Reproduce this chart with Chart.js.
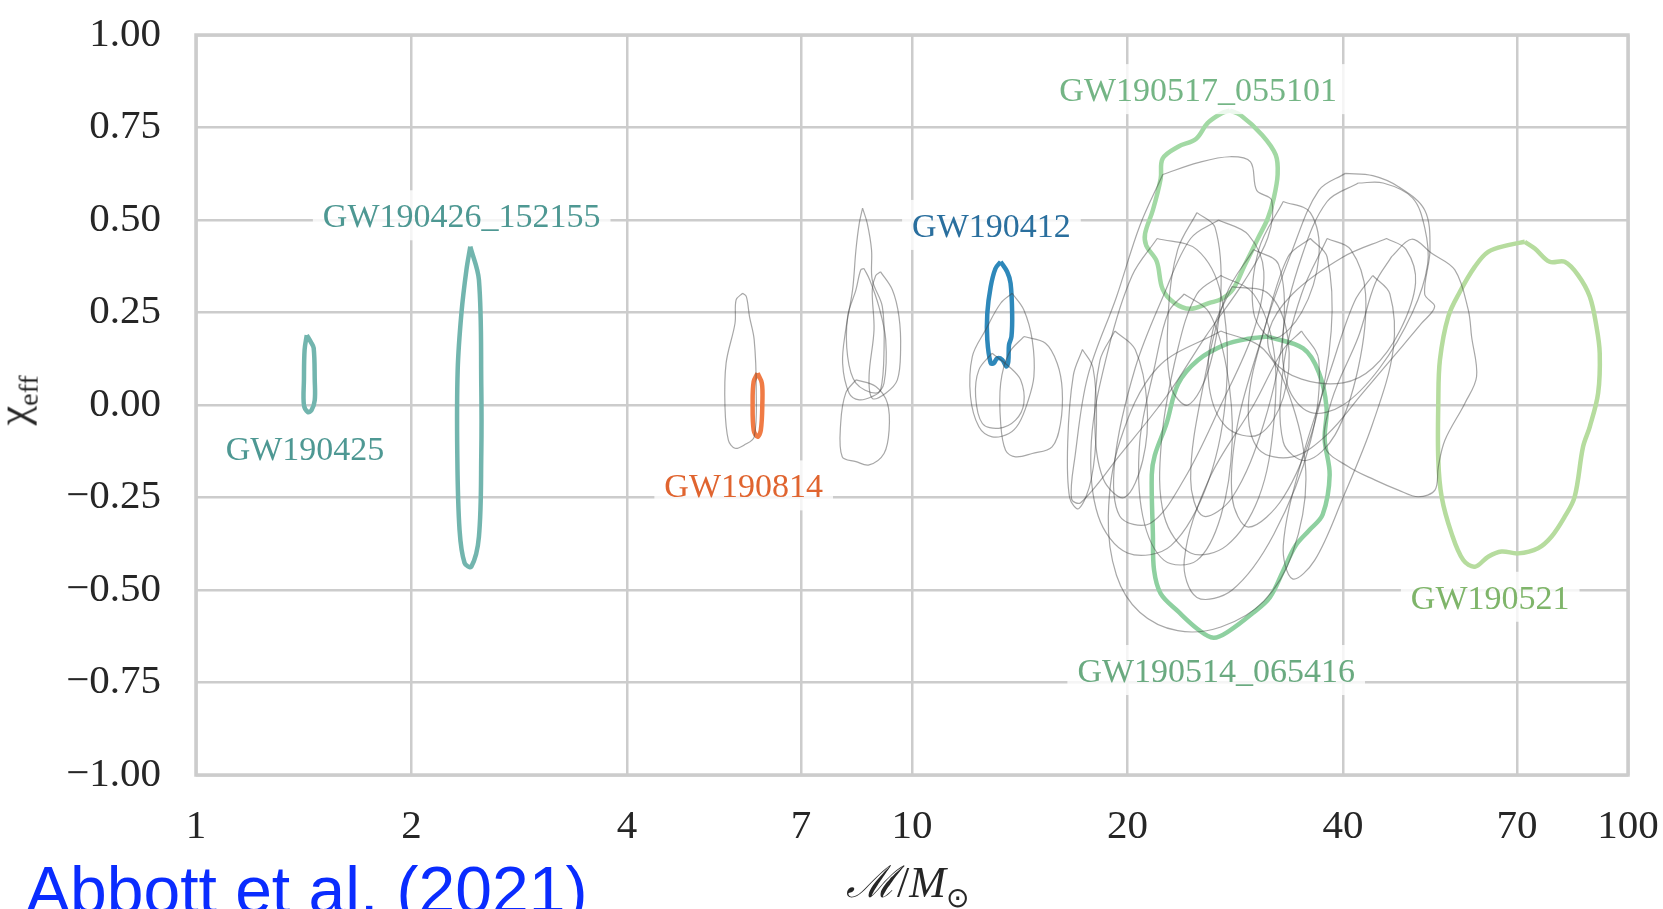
<!DOCTYPE html>
<html>
<head>
<meta charset="utf-8">
<script src="https://cdn.jsdelivr.net/npm/chart.js@4.4.1/dist/chart.umd.min.js"></script>
<style>
	html, body { margin: 0; padding: 0; background: #fff; overflow: hidden; }
	#wrap { position: relative; width: 1663px; height: 909px; }
	#yTitle {
		position: absolute; left: -14px; top: 372px; width: 60px; text-align: center;
		font-family: 'Liberation Serif', serif; font-size: 44px; color: #262626;
		transform: rotate(-90deg); transform-origin: 50% 50%;
	}
	#yTitle sub, #xTitle sub { font-size: 28px; }
	#xTitle {
		position: absolute; left: 846px; top: 850px;
		font-family: 'Liberation Serif', serif; font-size: 44px; color: #262626;
	}
	#credit {
		position: absolute; left: 26px; top: 852px; white-space: nowrap;
		font-family: 'Liberation Sans', Arial, sans-serif; font-size: 66px; color: #0a2cff;
	}
</style>
</head>
<body>
<div id="wrap">
	<canvas id="chiChart" width="1663" height="909"></canvas>
	<div id="yTitle">χ<sub>eff</sub></div>
	<div id="xTitle"><i>ℳ</i>/<i>M</i><sub>⊙</sub></div>
	<div id="credit">Abbott et al. (2021)</div>
</div>
<script>
// 축 눈금
const xTicks = [1, 2, 4, 7, 10, 20, 40, 70, 100];
const yTicks = [-1, -0.75, -0.5, -0.25, 0, 0.25, 0.5, 0.75, 1];

// 강조된 이벤트 윤곽선 [chirp mass, chi_eff]
const gw190425 = [[1.428,0.189],[1.447,0.17],[1.46,0.154],[1.465,0.068],[1.465,0.013],[1.45,-0.014],[1.433,-0.019],[1.415,0.0],[1.415,0.068],[1.418,0.149]];
const gw190426 = [[2.416,0.428],[2.484,0.338],[2.503,0.049],[2.503,-0.13],[2.484,-0.356],[2.424,-0.437],[2.372,-0.427],[2.334,-0.338],[2.317,-0.131],[2.32,0.095],[2.348,0.248],[2.386,0.365]];
const gw190814 = [[6.085,0.086],[6.17,0.059],[6.18,0.005],[6.15,-0.068],[6.085,-0.086],[6.01,-0.068],[5.99,0.005],[6.01,0.063]];
const gw190412 = [[13.30,0.387],[13.58,0.360],[13.73,0.329],[13.80,0.248],[13.77,0.185],[13.66,0.162],[13.63,0.117],[13.54,0.104],[13.37,0.122],[13.15,0.126],[13.01,0.113],[12.88,0.113],[12.74,0.176],[12.74,0.248],[12.88,0.320],[13.08,0.369]];
const gw190517 = [[27.79,0.796],[28.78,0.783],[30.83,0.730],[32.21,0.676],[32.41,0.623],[32.01,0.559],[31.41,0.505],[30.45,0.452],[29.14,0.377],[28.07,0.313],[27.03,0.286],[26.03,0.276],[24.45,0.260],[23.24,0.276],[22.39,0.313],[21.97,0.388],[21.24,0.431],[21.16,0.463],[21.70,0.527],[22.25,0.612],[22.39,0.666],[23.53,0.698],[24.92,0.719],[25.87,0.762],[27.03,0.788]];
const gw190514 = [[31.41,0.185],[35.18,0.153],[36.99,0.089],[37.93,-0.007],[37.70,-0.093],[38.31,-0.189],[37.46,-0.296],[35.85,-0.339],[34.31,-0.381],[33.03,-0.446],[31.61,-0.520],[29.89,-0.563],[27.71,-0.611],[26.37,-0.629],[25.07,-0.606],[23.53,-0.558],[22.25,-0.510],[21.78,-0.446],[21.70,-0.349],[21.62,-0.189],[21.83,-0.136],[22.67,-0.050],[23.53,0.057],[25.07,0.121],[27.37,0.163],[29.51,0.179]];
const gw190521 = [[71.76,0.441],[74.10,0.423],[77.74,0.387],[81.58,0.387],[85.16,0.351],[88.43,0.293],[90.36,0.212],[91.31,0.140],[90.84,0.032],[88.43,-0.059],[86.54,-0.113],[84.24,-0.248],[81.58,-0.302],[78.17,-0.356],[74.89,-0.387],[70.24,-0.401],[66.57,-0.396],[63.78,-0.410],[61.11,-0.437],[58.87,-0.419],[56.70,-0.347],[54.92,-0.248],[54.33,-0.149],[54.33,0.005],[54.62,0.122],[56.10,0.239],[58.24,0.306],[61.11,0.374],[63.78,0.414],[68.01,0.432]];

// 나머지 이벤트 (회색)
const grayContours = [
	[[5.80,0.302],[5.68,0.284],[5.66,0.221],[5.50,0.113],[5.48,-0.005],[5.54,-0.095],[5.66,-0.117],[5.83,-0.108],[6.02,-0.086],[6.06,0.041],[6.02,0.176],[5.93,0.239],[5.87,0.293]],
	[[8.53,0.532],[8.66,0.491],[8.78,0.419],[8.80,0.338],[9.09,0.266],[9.14,0.149],[9.04,0.041],[8.80,0.023],[8.44,0.014],[8.17,0.032],[8.0,0.113],[8.08,0.203],[8.26,0.311],[8.35,0.419],[8.44,0.491]],
	[[8.57,0.369],[8.73,0.338],[8.99,0.266],[9.19,0.176],[9.14,0.059],[8.90,0.032],[8.35,0.059],[8.13,0.131],[8.13,0.239],[8.35,0.311],[8.48,0.365]],
	[[9.04,0.360],[9.39,0.311],[9.59,0.239],[9.64,0.149],[9.54,0.068],[9.19,0.032],[8.80,0.018],[8.71,0.077],[8.85,0.203],[8.80,0.311],[8.90,0.350]],
	[[8.35,0.068],[8.90,0.050],[9.24,0.005],[9.29,-0.068],[9.14,-0.131],[8.71,-0.162],[8.35,-0.153],[7.99,-0.140],[7.95,-0.050],[8.08,0.032]],
	[[13.80,0.302],[14.33,0.257],[14.72,0.176],[14.80,0.077],[14.49,0.005],[14.10,-0.050],[13.66,-0.077],[12.94,-0.086],[12.40,-0.059],[12.07,0.023],[12.14,0.131],[12.67,0.203],[13.30,0.275]],
	[[12.94,0.140],[13.66,0.104],[14.18,0.068],[14.33,0.005],[13.95,-0.041],[13.22,-0.063],[12.54,-0.050],[12.27,0.023],[12.40,0.095]],
	[[14.33,0.185],[15.36,0.167],[15.95,0.113],[16.21,0.041],[16.12,-0.050],[15.69,-0.113],[14.72,-0.131],[13.95,-0.140],[13.51,-0.122],[13.30,-0.050],[13.30,0.059],[13.66,0.140]],
	[[22.4,0.623],[25.1,0.655],[27.8,0.671],[29.7,0.657],[30.3,0.58],[31.8,0.553],[31.4,0.452],[29.1,0.334],[25.7,0.185],[22.7,0.025],[19.5,-0.136],[17.2,-0.264],[16.7,-0.253],[16.9,-0.136],[17.6,0.078],[19.3,0.292],[20.8,0.484]],
	[[26.8,0.50],[29.5,0.46],[31,0.36],[30,0.2],[27,0.0],[24,-0.2],[21.5,-0.32],[19.5,-0.3],[19.2,-0.15],[20.5,0.1],[22.5,0.3],[24.5,0.45]],
	[[40.3,0.626],[44,0.62],[47.8,0.59],[52,0.527],[52.9,0.42],[52,0.3],[53.7,0.266],[51.5,0.221],[47,0.13],[42.5,0.03],[38,-0.08],[34,-0.14],[30.5,-0.12],[29.5,0.0],[31,0.2],[34,0.42],[37,0.58]],
	[[46.76,0.401],[49.87,0.448],[53.18,0.410],[57.30,0.365],[59.83,0.257],[60.47,0.185],[61.45,0.077],[59.19,0.005],[55.50,-0.095],[54.33,-0.167],[53.75,-0.230],[50.95,-0.248],[47.78,-0.230],[44.35,-0.203],[40.70,-0.167],[37.76,-0.113],[38.58,0.014],[42.03,0.185],[44.35,0.329]],
	[[42,0.60],[45.5,0.6],[50,0.56],[52,0.48],[52.5,0.38],[50,0.25],[45,0.1],[40,0.0],[36,-0.02],[33.5,0.05],[33,0.2],[35,0.4],[38,0.55]],
	[[46,0.45],[49,0.42],[50.5,0.33],[48,0.2],[44,0.1],[40,0.06],[35,0.07],[32,0.12],[31.5,0.2],[34,0.3],[40,0.4]],
	[[27,0.35],[30,0.3],[32,0.15],[32,-0.05],[30.5,-0.25],[27.5,-0.38],[24.5,-0.4],[22.5,-0.3],[22.3,-0.1],[23.5,0.15],[25,0.3]],
	[[24,0.3],[26,0.25],[27.5,0.1],[28,-0.1],[27,-0.3],[25,-0.42],[22.5,-0.42],[21,-0.3],[20.8,-0.1],[21.8,0.1],[22.8,0.25]],
	[[27,0.2],[31,0.15],[34,0.0],[35.5,-0.2],[34,-0.4],[31,-0.53],[27,-0.6],[23.5,-0.61],[20.8,-0.56],[19.3,-0.46],[18.8,-0.3],[19.5,-0.1],[22,0.1]],
	[[36,0.45],[38,0.4],[38.5,0.2],[36.5,-0.05],[33,-0.25],[29.5,-0.33],[28,-0.25],[28.5,-0.05],[31,0.2],[33.5,0.4]],
	[[30,0.42],[32.5,0.38],[33,0.2],[31,-0.05],[28,-0.25],[25.5,-0.3],[24.5,-0.2],[25.5,0.05],[27.5,0.3]],
	[[19.2,0.2],[20.5,0.15],[21.3,0.0],[21,-0.15],[19.8,-0.25],[18.5,-0.2],[18,-0.05],[18.3,0.12]],
	[[17.3,0.15],[17.9,0.1],[18.1,-0.05],[17.8,-0.2],[17.1,-0.28],[16.6,-0.25],[16.5,-0.1],[16.8,0.08]],
	[[44,0.35],[46.5,0.3],[47,0.15],[44,-0.05],[40,-0.25],[36.5,-0.42],[34,-0.47],[33,-0.38],[35,-0.15],[38.5,0.1],[41.5,0.28]],
	[[35,0.2],[37,0.12],[36,-0.1],[32,-0.35],[28,-0.5],[25,-0.52],[24,-0.42],[26,-0.2],[30,0.0],[33,0.15]],
	[[28,0.32],[31.5,0.3],[33.5,0.18],[33,0.02],[30.5,-0.08],[27.5,-0.06],[26,0.05],[26.3,0.2]],
	[[25,0.52],[26.5,0.48],[27,0.3],[26,0.1],[24.3,0.0],[23,0.05],[22.8,0.25],[23.5,0.42]],
	[[22,0.45],[25,0.42],[27,0.3],[27.5,0.05],[26,-0.2],[23,-0.38],[20,-0.4],[18.2,-0.3],[17.8,-0.1],[18.8,0.15],[20.3,0.35]],
	[[38,0.45],[41,0.42],[43,0.3],[42,0.1],[39,-0.08],[35.5,-0.15],[33,-0.1],[33,0.1],[35,0.3]],
	[[33,0.55],[36,0.52],[37,0.4],[35,0.25],[32,0.18],[30,0.25],[30.5,0.42]]
];

// 이벤트 라벨
const labelNames = ['GW190426_152155', 'GW190425', 'GW190814', 'GW190412', 'GW190517_055101', 'GW190514_065416', 'GW190521'];
const labelMass = [2.35, 1.42, 5.82, 12.91, 25.1, 26.6, 64.2];
const labelChi = [0.51, -0.12, -0.22, 0.484, 0.851, -0.719, -0.521];
const labelColors = ['#4e9893', '#4e9893', '#e0642f', '#2a6f9e', '#74b585', '#6aaa80', '#7fb56a'];

function loop(points) {
	const pts = points.map(p => ({ x: p[0], y: p[1] }));
	pts.push(pts[0]);
	return pts;
}

const datasets = [];
grayContours.forEach(c => {
	datasets.push({ data: loop(c), borderColor: 'rgba(60,60,60,0.45)', borderWidth: 1.2 });
});
const highlighted = [
	[gw190425, '#72b5ae'], [gw190426, '#72b5ae'], [gw190814, '#f07b45'], [gw190412, '#2e88ba'],
	[gw190517, '#a2d9a4'], [gw190514, '#8ed0a0'], [gw190521, '#b6dc9e']
];
highlighted.forEach(h => {
	datasets.push({ data: loop(h[0]), borderColor: h[1], borderWidth: 4.5 });
});

// 라벨 + 외곽선 그리기
const labelPlugin = {
	id: 'eventLabels',
	afterDatasetsDraw(chart) {
		const { ctx, scales: { x, y }, chartArea } = chart;
		ctx.save();
		ctx.font = '34px "Liberation Serif", serif';
		ctx.textAlign = 'center';
		ctx.textBaseline = 'middle';
		labelNames.forEach((name, i) => {
			const px = x.getPixelForValue(labelMass[i]);
			const py = y.getPixelForValue(labelChi[i]);
			const w = ctx.measureText(name).width;
			ctx.fillStyle = 'rgba(255,255,255,0.8)';
			ctx.fillRect(px - w / 2 - 10, py - 26, w + 20, 50);
			ctx.fillStyle = labelColors[i];
			ctx.fillText(name, px, py + 2);
		});
		ctx.strokeStyle = '#cccccc';
		ctx.lineWidth = 3.5;
		ctx.strokeRect(chartArea.left, chartArea.top, chartArea.right - chartArea.left, chartArea.bottom - chartArea.top);
		ctx.restore();
	}
};

const tickFont = { family: 'Liberation Serif', size: 41 };

new Chart(document.getElementById('chiChart').getContext('2d'), {
	type: 'scatter',
	data: { datasets: datasets },
	options: {
		responsive: false,
		animation: false,
		devicePixelRatio: 1,
		layout: { padding: { top: 35, right: 35, left: 0, bottom: 0 } },
		datasets: {
			scatter: { showLine: true, pointRadius: 0, tension: 0.35, fill: false }
		},
		scales: {
			x: {
				type: 'logarithmic',
				min: 1,
				max: 100,
				afterBuildTicks: scale => { scale.ticks = xTicks.map(v => ({ value: v })); },
				afterFit: scale => {
					scale.height = 134;
					scale.paddingLeft = 0;
					scale.paddingRight = 0;
				},
				grid: { color: '#cccccc', lineWidth: 2.5, drawTicks: false },
				border: { display: false },
				ticks: {
					autoSkip: false, maxRotation: 0, padding: 28, color: '#262626', font: tickFont,
					callback: v => String(v)
				}
			},
			y: {
				min: -1,
				max: 1,
				afterBuildTicks: scale => { scale.ticks = yTicks.map(v => ({ value: v })); },
				afterFit: scale => {
					scale.width = 196;
					scale.paddingTop = 0;
					scale.paddingBottom = 0;
				},
				grid: { color: '#cccccc', lineWidth: 2.5, drawTicks: false },
				border: { display: false },
				ticks: {
					padding: 35, color: '#262626', font: tickFont,
					callback: v => (v < 0 ? '\u2212' : '') + Math.abs(v).toFixed(2)
				}
			}
		},
		plugins: {
			legend: { display: false },
			tooltip: { enabled: false }
		}
	},
	plugins: [labelPlugin]
});
</script>
</body>
</html>
